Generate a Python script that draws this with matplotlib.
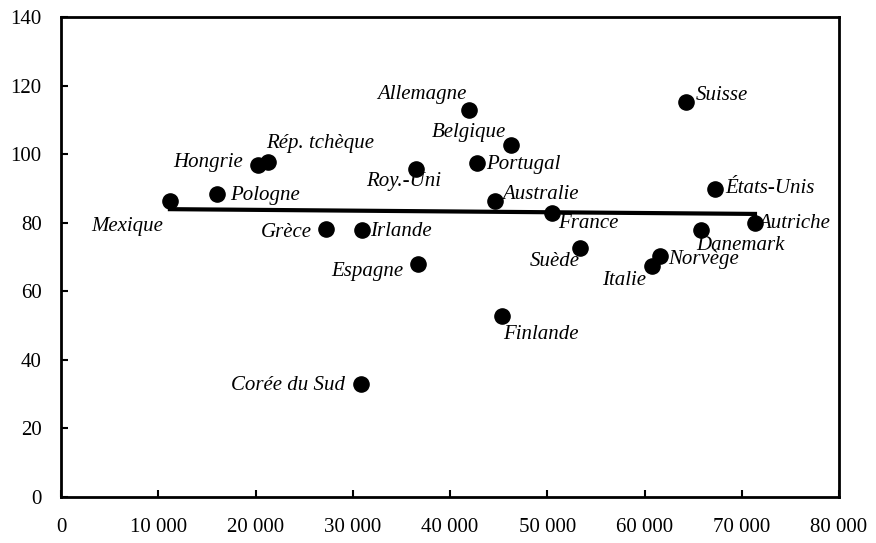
import numpy as np
import matplotlib
matplotlib.use("Agg")
import matplotlib.pyplot as plt
from matplotlib.ticker import FuncFormatter, MultipleLocator

plt.rcParams['font.family'] = ['Liberation Serif', 'DejaVu Serif']

# donnees
pays = ["Mexique", "Pologne", "Hongrie", "Rép. tchèque", "Grèce", "Irlande",
        "Espagne", "Roy.-Uni", "Allemagne", "Belgique", "Portugal", "Australie",
        "France", "Suède", "Finlande", "Suisse", "États-Unis", "Danemark",
        "Autriche", "Norvège", "Italie", "Corée du Sud"]
revenu = [11200, 16060, 20280, 21300, 27300, 30970,
          36660, 36490, 41930, 46320, 42790, 44600,
          50500, 53400, 45320, 64240, 67250, 65810,
          71360, 61630, 60810, 30800]
indice = [86.4, 88.5, 96.8, 97.8, 78.3, 78.0,
          67.9, 95.8, 113.0, 102.6, 97.5, 86.4,
          82.9, 72.5, 52.8, 115.1, 89.8, 78.0,
          79.8, 70.3, 67.5, 33.1]

# decalage des etiquettes (pixels) et alignement
decalages = {
    "Mexique": (-7, -26, "right"), "Pologne": (13, -2, "left"),
    "Hongrie": (-15, 3, "right"), "Rép. tchèque": (-2, 18, "left"),
    "Grèce": (-15, -4, "right"), "Irlande": (8, -2, "left"),
    "Espagne": (-14, -7, "right"), "Roy.-Uni": (-12, -13, "center"),
    "Allemagne": (-2, 15, "right"), "Belgique": (-5, 13, "right"),
    "Portugal": (9, -2, "left"), "Australie": (7, 6, "left"),
    "France": (6, -11, "left"), "Suède": (-1, -13, "right"),
    "Finlande": (1, -19, "left"), "Suisse": (10, 7, "left"),
    "États-Unis": (10, 1, "left"), "Danemark": (-5, -16, "left"),
    "Autriche": (3, 0, "left"), "Norvège": (8, -4, "left"),
    "Italie": (-6, -15, "right"), "Corée du Sud": (-16, -2, "right"),
}

x = np.array(revenu)
y = np.array(indice)

fig = plt.figure(figsize=(8.76, 5.43), dpi=100)
ax = fig.add_axes([61/876, 1-497/543, (839-61)/876, (497-17)/543])

ax.scatter(x, y, s=120, color='black', zorder=3)

# droite de tendance
a, b = np.polyfit(x, y, 1)
xt = np.array([x.min(), x.max()])
ax.plot(xt, a*xt + b, color='black', linewidth=3, zorder=2)

for nom, xi, yi in zip(pays, x, y):
    dx, dy, ha = decalages[nom]
    ax.annotate(nom, (xi, yi), xytext=(dx, dy), textcoords='offset pixels',
                ha=ha, va='center', fontsize=15, style='italic')

ax.set_xlim(0, 80000)
ax.set_ylim(0, 140)
ax.xaxis.set_major_locator(MultipleLocator(10000))
ax.yaxis.set_major_locator(MultipleLocator(20))
ax.xaxis.set_major_formatter(FuncFormatter(lambda v, p: f"{int(v):,}".replace(",", " ")))

for s in ax.spines.values():
    s.set_linewidth(2)
ax.tick_params(direction='in', length=5, width=1.5, labelsize=15)
ax.tick_params(axis='x', pad=15)
ax.tick_params(axis='y', pad=14)

fig.savefig("out.png", dpi=100)
